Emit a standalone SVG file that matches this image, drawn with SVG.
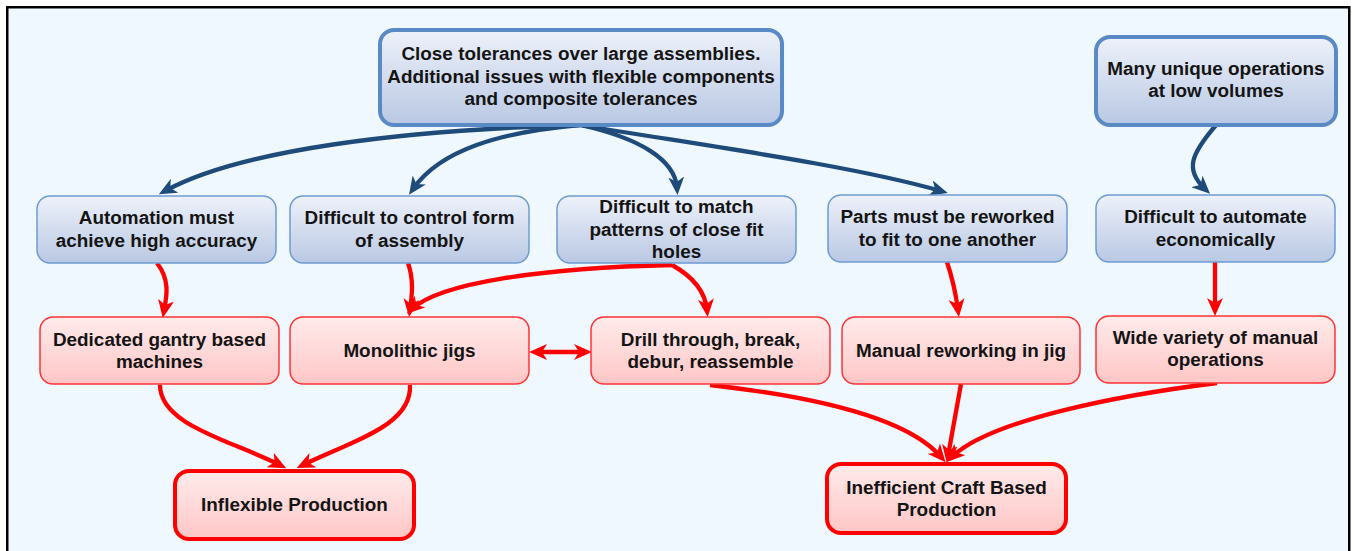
<svg xmlns="http://www.w3.org/2000/svg" width="1354" height="551" viewBox="0 0 1354 551">
<defs>
<linearGradient id="gb" x1="0" y1="0" x2="0" y2="1"><stop offset="0" stop-color="#EDF1FA"/><stop offset="1" stop-color="#B9C8E3"/></linearGradient>
<linearGradient id="gr" x1="0" y1="0" x2="0" y2="1"><stop offset="0" stop-color="#FFEBEB"/><stop offset="1" stop-color="#FFC6C6"/></linearGradient>
<marker id="ab" markerUnits="userSpaceOnUse" viewBox="0 0 18 16" markerWidth="18" markerHeight="16" refX="11" refY="8" orient="auto"><path d="M0,0 L18,8 L0,16 L5,8 z" fill="#1F4B7A"/></marker>
<marker id="ar" markerUnits="userSpaceOnUse" viewBox="0 0 18 16" markerWidth="18" markerHeight="16" refX="11" refY="8" orient="auto-start-reverse"><path d="M0,0 L18,8 L0,16 L5,8 z" fill="#FF0000"/></marker>
<style>
.bt{fill:url(#gb);stroke:#5A8AC6;stroke-width:4}
.b{fill:url(#gb);stroke:#6E9AD2;stroke-width:1.5}
.r{fill:url(#gr);stroke:#FF3333;stroke-width:1.5}
.rt{fill:url(#gr);stroke:#FF0000;stroke-width:4}
text{font-family:"Liberation Sans",Arial,sans-serif;font-weight:bold;font-size:18.9px;fill:#141414;text-anchor:middle}
.cb{fill:none;stroke:#1F4B7A;stroke-width:4.3;marker-end:url(#ab)}
.cr{fill:none;stroke:#FF0000;stroke-width:4.3;marker-end:url(#ar)}
</style>
</defs>
<rect x="0" y="0" width="1354" height="551" fill="#FFFFFF"/>
<rect x="7.25" y="7.25" width="1342" height="600" fill="#F0F8FF" stroke="#000000" stroke-width="2.5"/>
<g id="connectors">
<path class="cb" d="M580,125 C400,130 240,150 165,191"/>
<path class="cb" d="M580,125 C500,132 440,150 413,189"/>
<path class="cb" d="M580,125 C640,138 675,160 677,188"/>
<path class="cb" d="M580,125 C700,145 850,165 941,191"/>
<path class="cb" d="M1217,124 C1190,155 1185,170 1205,189"/>
<path class="cr" d="M157,263 C170,280 167,295 164,311"/>
<path class="cr" d="M408,263 C414,280 412,295 410,310"/>
<path class="cr" d="M672,265 C540,268 440,283 412,309"/>
<path class="cr" d="M672,265 C690,275 705,290 707,310"/>
<path class="cr" d="M947,262 C953,280 956,295 958,310"/>
<path class="cr" d="M1215,262 L1215,309"/>
<path class="cr" d="M536,352 L585,352" marker-start="url(#ar)"/>
<path class="cr" d="M160,385 C160,425 230,440 280,465"/>
<path class="cr" d="M410,385 C412,425 355,440 303,465"/>
<path class="cr" d="M710,385 C800,395 905,415 941,457"/>
<path class="cr" d="M961,384 L948,456"/>
<path class="cr" d="M1217,383 C1120,395 990,420 952,457"/>
</g>
<g id="n-top">
<rect class="bt" x="380" y="30" width="402" height="95" rx="14"/>
<text x="581" y="60">Close tolerances over large assemblies.</text>
<text x="581" y="82.5">Additional issues with flexible components</text>
<text x="581" y="105">and composite tolerances</text>
</g>
<g id="n-many">
<rect class="bt" x="1096" y="37" width="240" height="88" rx="14"/>
<text x="1216" y="75">Many unique operations</text>
<text x="1216" y="97">at low volumes</text>
</g>
<g id="n-auto">
<rect class="b" x="37" y="196" width="239" height="67" rx="13"/>
<text x="156.5" y="224">Automation must</text>
<text x="156.5" y="246.5">achieve high accuracy</text>
</g>
<g id="n-form">
<rect class="b" x="290" y="196" width="239" height="67" rx="13"/>
<text x="409.5" y="224">Difficult to control form</text>
<text x="409.5" y="246.5">of assembly</text>
</g>
<g id="n-match">
<rect class="b" x="557" y="196" width="239" height="67" rx="13"/>
<text x="676.5" y="213">Difficult to match</text>
<text x="676.5" y="235.5">patterns of close fit</text>
<text x="676.5" y="258">holes</text>
</g>
<g id="n-parts">
<rect class="b" x="828" y="195" width="239" height="67" rx="13"/>
<text x="947.5" y="223">Parts must be reworked</text>
<text x="947.5" y="245.5">to fit to one another</text>
</g>
<g id="n-econ">
<rect class="b" x="1096" y="195" width="239" height="67" rx="13"/>
<text x="1215.5" y="223">Difficult to automate</text>
<text x="1215.5" y="245.5">economically</text>
</g>
<g id="n-gantry">
<rect class="r" x="40" y="317" width="239" height="67" rx="13"/>
<text x="159.5" y="346">Dedicated gantry based</text>
<text x="159.5" y="368">machines</text>
</g>
<g id="n-jigs">
<rect class="r" x="290" y="317" width="239" height="67" rx="13"/>
<text x="409.5" y="357">Monolithic jigs</text>
</g>
<g id="n-drill">
<rect class="r" x="591" y="317" width="239" height="67" rx="13"/>
<text x="710.5" y="346">Drill through, break,</text>
<text x="710.5" y="368">debur, reassemble</text>
</g>
<g id="n-manual">
<rect class="r" x="842" y="317" width="238" height="67" rx="13"/>
<text x="961" y="357">Manual reworking in jig</text>
</g>
<g id="n-variety">
<rect class="r" x="1096" y="316" width="239" height="67" rx="13"/>
<text x="1215.5" y="344">Wide variety of manual</text>
<text x="1215.5" y="366">operations</text>
</g>
<g id="n-inflex">
<rect class="rt" x="175" y="471" width="239" height="68" rx="14"/>
<text x="294.5" y="511">Inflexible Production</text>
</g>
<g id="n-craft">
<rect class="rt" x="827" y="464" width="239" height="69" rx="14"/>
<text x="946.5" y="493.5">Inefficient Craft Based</text>
<text x="946.5" y="515.5">Production</text>
</g>
</svg>
